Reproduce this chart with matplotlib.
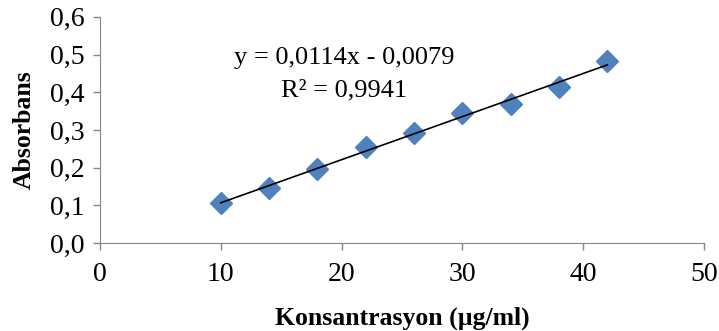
import numpy as np
import matplotlib.pyplot as plt

plt.rcParams['font.family'] = ['Liberation Serif', 'DejaVu Serif']

# concentration (ug/ml) and absorbance
konsantrasyon = [10, 14, 18, 22, 26, 30, 34, 38, 42]
absorbans = [0.106, 0.146, 0.196, 0.255, 0.292, 0.346, 0.369, 0.414, 0.482]

x_ticks = [0, 10, 20, 30, 40, 50]
y_ticks = [0.0, 0.1, 0.2, 0.3, 0.4, 0.5, 0.6]
y_ticklabels = ['0,0', '0,1', '0,2', '0,3', '0,4', '0,5', '0,6']

fig = plt.figure(figsize=(7.19, 3.31), dpi=100)
ax = fig.add_axes([0.139, 0.266, 0.840, 0.683])

# linear trendline
m, b = np.polyfit(konsantrasyon, absorbans, 1)
xs = np.array([konsantrasyon[0], konsantrasyon[-1]])
ax.plot(xs, m * xs + b, color='black', lw=1.2, zorder=3)
ax.plot(konsantrasyon, absorbans, 'D', color='#4F81BD', ms=11, mec='#4F81BD', zorder=2,
        clip_on=False)

ax.text(0.405, 0.82, 'y = 0,0114x - 0,0079', transform=ax.transAxes,
        ha='center', va='center', fontsize=19)
ax.text(0.405, 0.675, 'R² = 0,9941', transform=ax.transAxes,
        ha='center', va='center', fontsize=19)

ax.set_xlim(0, 50)
ax.set_ylim(0, 0.6)
ax.set_xticks(x_ticks)
ax.set_yticks(y_ticks)
ax.set_yticklabels(y_ticklabels)
ax.tick_params(labelsize=20, color='#868686', length=5, width=1)
ax.tick_params(axis='x', pad=9)
ax.tick_params(axis='y', pad=6)

for s in ['top', 'right']:
    ax.spines[s].set_visible(False)
for s in ['left', 'bottom']:
    ax.spines[s].set_color('#868686')

ax.set_xlabel('Konsantrasyon (µg/ml)', fontsize=18.5, fontweight='bold', labelpad=14)
ax.set_ylabel('Absorbans', fontsize=18.5, fontweight='bold', labelpad=10)

fig.savefig('out.png', dpi=100)
